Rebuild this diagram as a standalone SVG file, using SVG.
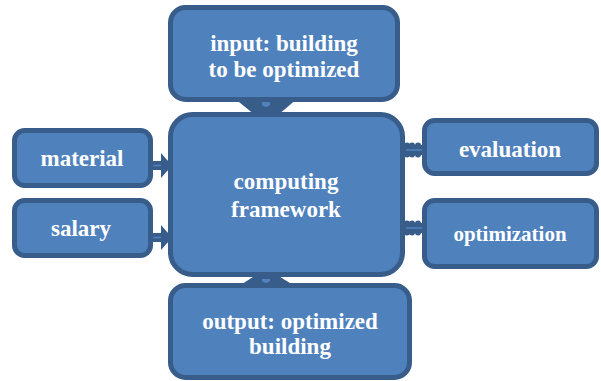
<svg xmlns="http://www.w3.org/2000/svg" width="601" height="381" viewBox="0 0 601 381">
  <style>
    .box { fill: #4F81BD; stroke: #385D8A; stroke-width: 5; }
    .lbl { font-family: "Liberation Serif", "Times New Roman", serif; font-weight: bold; font-size: 23px; fill: #FFFFFF; text-anchor: middle; }
    .dark { fill: #385D8A; }
    .light { fill: #4F81BD; }
    .stripe { stroke: #4F81BD; stroke-width: 1.5; }
  </style>
  <rect width="601" height="381" fill="#FFFFFF"/>

  <g id="connectors">
    <!-- input -> computing framework -->
    <path class="dark" d="M234,98 L298,98 L278,115 L255,115 Z"/>
    <path class="light" d="M262,102 L270,102 L270,105 Q266,109 262,105 Z"/>
    <!-- computing framework -> output -->
    <path class="dark" d="M256,275 L277,275 L298,288 L236,288 Z"/>
    <path class="light" d="M262,279 L270,279 L270,281 Q266,285 262,281 Z"/>
    <!-- material -> computing framework -->
    <rect class="dark" x="150" y="161" width="13" height="9"/>
    <line class="stripe" x1="150" y1="165.5" x2="163" y2="165.5"/>
    <path class="dark" d="M161,153 L172,165.5 L161,178 Z"/>
    <!-- salary -> computing framework -->
    <rect class="dark" x="150" y="233" width="13" height="9"/>
    <line class="stripe" x1="150" y1="237.5" x2="163" y2="237.5"/>
    <path class="dark" d="M161,225 L172,237.5 L161,250 Z"/>
    <!-- computing framework <-> evaluation -->
    <rect class="dark" x="403" y="145" width="23" height="10"/>
    <circle class="dark" cx="407" cy="145.5" r="3"/>
    <circle class="dark" cx="412" cy="145.5" r="3"/>
    <circle class="dark" cx="407" cy="154.5" r="3"/>
    <circle class="dark" cx="412" cy="154.5" r="3"/>
    <circle class="dark" cx="418" cy="145.5" r="3"/>
    <circle class="dark" cx="418" cy="154.5" r="3"/>
    <line class="stripe" x1="406" y1="150" x2="422" y2="150"/>
    <!-- computing framework <-> optimization -->
    <rect class="dark" x="403" y="223" width="23" height="10"/>
    <circle class="dark" cx="407" cy="223.5" r="3"/>
    <circle class="dark" cx="412" cy="223.5" r="3"/>
    <circle class="dark" cx="407" cy="232.5" r="3"/>
    <circle class="dark" cx="412" cy="232.5" r="3"/>
    <circle class="dark" cx="418" cy="223.5" r="3"/>
    <circle class="dark" cx="418" cy="232.5" r="3"/>
    <line class="stripe" x1="406" y1="228" x2="422" y2="228"/>
  </g>

  <g id="input">
    <rect class="box" x="170.5" y="7.5" width="227" height="92" rx="15"/>
    <text class="lbl" x="284" y="51">input: building</text>
    <text class="lbl" x="284" y="77">to be optimized</text>
  </g>

  <g id="computing">
    <rect class="box" x="170.5" y="114.5" width="232" height="160" rx="22"/>
    <text class="lbl" x="286" y="189">computing</text>
    <text class="lbl" x="286" y="217">framework</text>
  </g>

  <g id="output">
    <rect class="box" x="170.5" y="285.5" width="239" height="92" rx="15"/>
    <text class="lbl" x="290" y="329">output: optimized</text>
    <text class="lbl" x="290" y="354">building</text>
  </g>

  <g id="material">
    <rect class="box" x="14.5" y="130.5" width="136" height="55" rx="10"/>
    <text class="lbl" x="82" y="166">material</text>
  </g>

  <g id="salary">
    <rect class="box" x="14.5" y="200.5" width="136" height="55" rx="10"/>
    <text class="lbl" x="81" y="236">salary</text>
  </g>

  <g id="evaluation">
    <rect class="box" x="424.5" y="120.5" width="172" height="53" rx="10"/>
    <text class="lbl" x="510" y="157">evaluation</text>
  </g>

  <g id="optimization">
    <rect class="box" x="424.5" y="200.5" width="172" height="66" rx="10"/>
    <text class="lbl" x="510" y="241" style="font-size:21px">optimization</text>
  </g>
</svg>
